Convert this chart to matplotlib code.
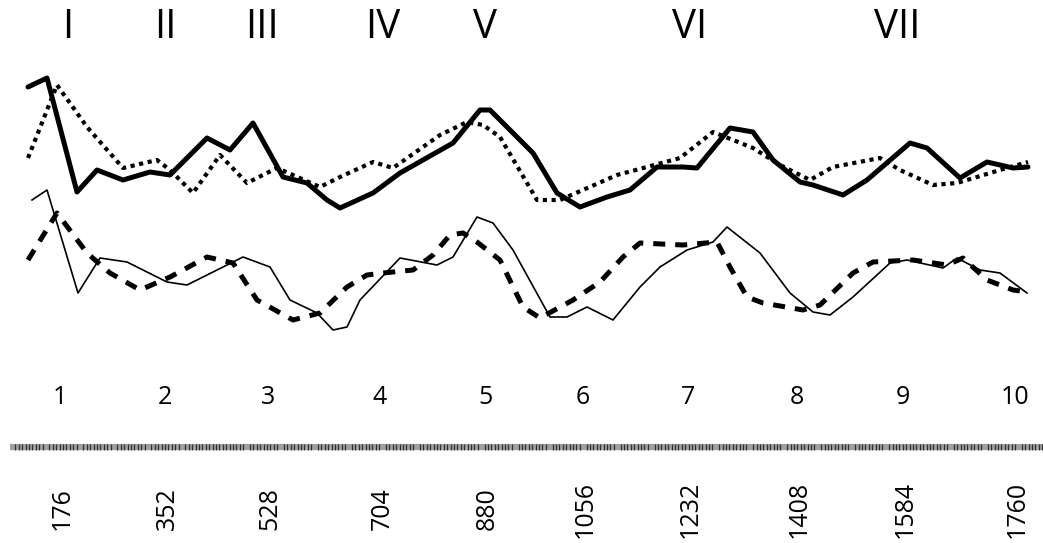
import numpy as np
import matplotlib
matplotlib.use("Agg")
import matplotlib.pyplot as plt

plt.rcParams['font.family'] = ['Open Sans', 'DejaVu Sans']

# Densitometry traces: scan position (arbitrary units) vs density (arbitrary units)
a_x = [28, 47, 77, 97, 123, 150, 170, 207, 230, 253, 283, 307, 327, 340, 373, 400, 453, 480, 490, 517, 533, 557,
       580, 607, 630, 657, 683, 697, 730, 753, 773, 800, 813, 843, 867, 910, 927, 960, 987, 1013, 1028]
a_y = [313, 322, 208, 230, 220, 228, 225, 262, 250, 277, 223, 217, 200, 192, 207, 227, 257, 290, 290, 263, 247, 207,
       193, 203, 210, 233, 233, 232, 272, 268, 240, 218, 215, 205, 220, 257, 252, 222, 238, 232, 233]

b_x = [28, 57, 87, 123, 157, 170, 193, 220, 247, 277, 320, 340, 373, 393, 440, 467, 483, 500, 537, 560, 617, 647,
       680, 713, 753, 780, 810, 833, 880, 900, 933, 957, 1000, 1028]
b_y = [242, 315, 273, 232, 240, 230, 207, 245, 217, 232, 213, 223, 238, 232, 265, 278, 275, 263, 200, 200, 225, 233,
       242, 268, 252, 235, 220, 233, 242, 230, 215, 217, 230, 238]

c_x = [32, 47, 78, 100, 127, 167, 187, 233, 243, 270, 290, 317, 333, 347, 360, 400, 437, 453, 477, 493, 513, 550,
       567, 587, 613, 640, 660, 687, 713, 727, 760, 790, 813, 830, 853, 890, 907, 943, 957, 980, 1000, 1027]
c_y = [200, 210, 107, 142, 138, 118, 115, 138, 143, 133, 100, 87, 70, 73, 100, 142, 135, 143, 183, 177, 150, 83,
       83, 93, 80, 113, 133, 150, 158, 173, 147, 107, 88, 85, 103, 137, 140, 132, 142, 130, 127, 107]

d_x = [28, 57, 87, 110, 140, 170, 207, 233, 257, 293, 320, 347, 367, 383, 413, 433, 450, 463, 477, 500, 523, 540,
       573, 600, 623, 640, 683, 717, 730, 747, 763, 803, 820, 853, 873, 913, 947, 963, 987, 1013, 1028]
d_y = [140, 187, 147, 127, 110, 123, 143, 137, 100, 80, 87, 113, 125, 127, 130, 145, 165, 167, 158, 140, 93, 82,
       100, 118, 143, 157, 155, 158, 133, 103, 97, 90, 95, 127, 138, 140, 135, 142, 120, 110, 108]

roman_labels = ['I', 'II', 'III', 'IV', 'V', 'VI', 'VII']
roman_pos = [68, 165, 262, 383, 485, 690, 897]

lane_labels = ['1', '2', '3', '4', '5', '6', '7', '8', '9', '10']
lane_pos = [60, 165, 268, 380, 485, 583, 688, 797, 903, 1015]
bp_labels = ['176', '352', '528', '704', '880', '1056', '1232', '1408', '1584', '1760']

fig = plt.figure(figsize=(10.43, 5.43), dpi=100)
ax = fig.add_axes([0, 0, 1, 1])
ax.set_xlim(0, 1043)
ax.set_ylim(-143, 400)
ax.axis('off')

ax.plot(a_x, a_y, color='black', lw=3.6, solid_joinstyle='round', solid_capstyle='round')
ax.plot(b_x, b_y, color='black', lw=3.0, linestyle=(0, (1, 1.1)))
ax.plot(c_x, c_y, color='black', lw=1.2)
ax.plot(d_x, d_y, color='black', lw=3.6, linestyle=(0, (2.4, 2.0)))

for lab, p in zip(roman_labels, roman_pos):
    ax.text(p, 372, lab, ha='center', va='center', fontsize=29, color='black', fontweight='normal')

for lab, p in zip(lane_labels, lane_pos):
    ax.text(p, 3, lab, ha='center', va='center', fontsize=18, color='black')

for lab, p in zip(bp_labels, lane_pos):
    ax.text(p + 2, -109, lab, ha='center', va='center', fontsize=18, rotation=90, color='black')

# ruler bar
ax.plot([10, 1043], [-47, -47], color='#a0a0a0', lw=4.5, solid_capstyle='butt')
ticks = np.arange(12, 1043, 3.4)
ticks = ticks[((ticks - 12) % 33.5) > 3]
ax.vlines(ticks, -50, -44, color='#303030', lw=0.9)

fig.savefig('out.png', dpi=100)
